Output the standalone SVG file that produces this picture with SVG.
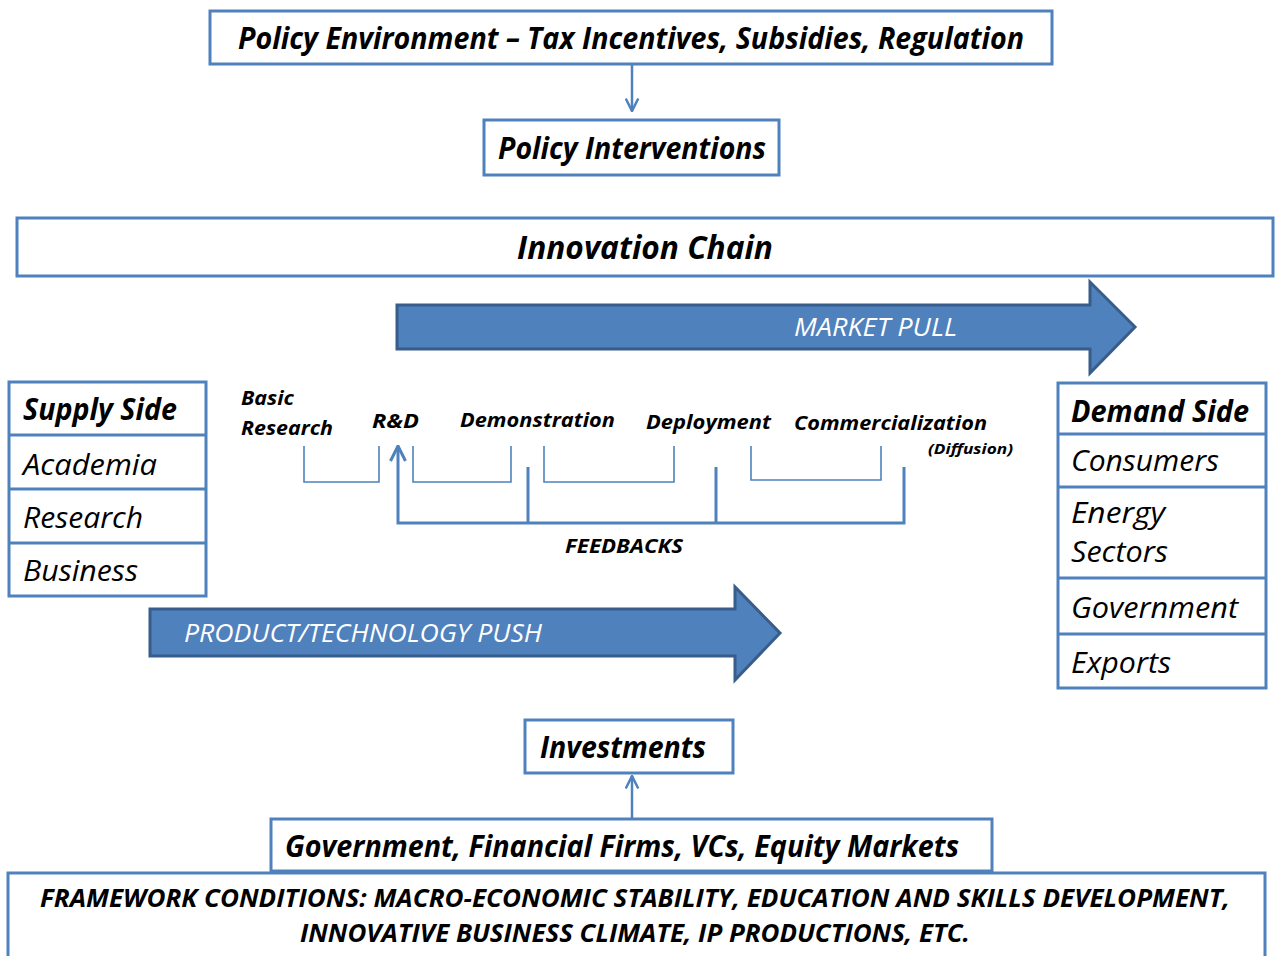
<svg xmlns="http://www.w3.org/2000/svg" width="1276" height="956" viewBox="0 0 1276 956">
  <style>
    .box { fill: #ffffff; stroke: #4f81bd; stroke-width: 3; }
    .sep { stroke: #4f81bd; stroke-width: 3; }
    .t { font-family: "Open Sans", "Liberation Sans", sans-serif; fill: #000; }
    .bi { font-weight: bold; font-style: italic; }
    .i { font-style: italic; }
    .big { fill: #4f81bd; stroke: #385d8a; stroke-width: 3; }
    .wt { font-family: "Open Sans", "Liberation Sans", sans-serif; fill: #ffffff; font-style: italic; }
    .thin { fill: none; stroke: #4f81bd; stroke-width: 1.6; }
    .fb { fill: none; stroke: #4f81bd; stroke-width: 3; }
    .conn { fill: none; stroke: #4f81bd; stroke-width: 2.5; }
  </style>
  <defs>
    <marker id="vhead" viewBox="0 0 12 12" refX="11" refY="6" markerWidth="6" markerHeight="6" orient="auto" markerUnits="strokeWidth">
      <path d="M1,1 L11,6 L1,11" fill="none" stroke="#4f81bd" stroke-width="2"/>
    </marker>
  </defs>

  <g id="policy-environment">
    <rect class="box" x="210" y="11" width="842" height="53"/>
    <text class="t bi" x="238" y="49" font-size="31" textLength="786" lengthAdjust="spacingAndGlyphs">Policy Environment – Tax Incentives, Subsidies, Regulation</text>
  </g>

  <g id="policy-interventions">
    <rect class="box" x="484" y="120" width="295" height="55"/>
    <text class="t bi" x="498" y="159" font-size="31" textLength="268" lengthAdjust="spacingAndGlyphs">Policy Interventions</text>
  </g>

  <g id="innovation-chain">
    <rect class="box" x="17" y="218" width="1256" height="58"/>
    <text class="t bi" x="517" y="259" font-size="33" textLength="256" lengthAdjust="spacingAndGlyphs">Innovation Chain</text>
  </g>

  <g id="market-pull">
    <path class="big" d="M397,305 L1090,305 L1090,282 L1135,327 L1090,373 L1090,349 L397,349 Z"/>
    <text class="wt" x="794" y="336" font-size="26" textLength="163" lengthAdjust="spacingAndGlyphs">MARKET PULL</text>
  </g>

  <g id="supply-side">
    <rect class="box" x="9" y="382" width="197" height="214"/>
    <line class="sep" x1="9" y1="435" x2="206" y2="435"/>
    <line class="sep" x1="9" y1="489" x2="206" y2="489"/>
    <line class="sep" x1="9" y1="543" x2="206" y2="543"/>
    <text class="t bi" x="23" y="420" font-size="30" textLength="154" lengthAdjust="spacingAndGlyphs">Supply Side</text>
    <text class="t i" x="23" y="475" font-size="30" textLength="134" lengthAdjust="spacingAndGlyphs">Academia</text>
    <text class="t i" x="23" y="528" font-size="30" textLength="120" lengthAdjust="spacingAndGlyphs">Research</text>
    <text class="t i" x="23" y="581" font-size="30" textLength="115" lengthAdjust="spacingAndGlyphs">Business</text>
  </g>

  <g id="demand-side">
    <rect class="box" x="1058" y="383" width="208" height="305"/>
    <line class="sep" x1="1058" y1="434" x2="1266" y2="434"/>
    <line class="sep" x1="1058" y1="487" x2="1266" y2="487"/>
    <line class="sep" x1="1058" y1="578" x2="1266" y2="578"/>
    <line class="sep" x1="1058" y1="634" x2="1266" y2="634"/>
    <text class="t bi" x="1071" y="422" font-size="30" textLength="178" lengthAdjust="spacingAndGlyphs">Demand Side</text>
    <text class="t i" x="1071" y="471" font-size="30" textLength="148" lengthAdjust="spacingAndGlyphs">Consumers</text>
    <text class="t i" x="1071" y="523" font-size="30" textLength="94" lengthAdjust="spacingAndGlyphs">Energy</text>
    <text class="t i" x="1071" y="562" font-size="30" textLength="97" lengthAdjust="spacingAndGlyphs">Sectors</text>
    <text class="t i" x="1071" y="618" font-size="30" textLength="167" lengthAdjust="spacingAndGlyphs">Government</text>
    <text class="t i" x="1071" y="673" font-size="30" textLength="100" lengthAdjust="spacingAndGlyphs">Exports</text>
  </g>

  <g id="chain-stages">
    <text class="t bi" x="241" y="405" font-size="20" textLength="53" lengthAdjust="spacingAndGlyphs">Basic</text>
    <text class="t bi" x="241" y="435" font-size="20" textLength="92" lengthAdjust="spacingAndGlyphs">Research</text>
    <text class="t bi" x="372" y="428" font-size="20" textLength="47" lengthAdjust="spacingAndGlyphs">R&amp;D</text>
    <text class="t bi" x="460" y="427" font-size="20" textLength="155" lengthAdjust="spacingAndGlyphs">Demonstration</text>
    <text class="t bi" x="646" y="429" font-size="20" textLength="125" lengthAdjust="spacingAndGlyphs">Deployment</text>
    <text class="t bi" x="794" y="430" font-size="20" textLength="193" lengthAdjust="spacingAndGlyphs">Commercialization</text>
    <text class="t bi" x="928" y="454" font-size="15" textLength="85" lengthAdjust="spacingAndGlyphs">(Diffusion)</text>
    <text class="t bi" x="565" y="553" font-size="20" textLength="118" lengthAdjust="spacingAndGlyphs">FEEDBACKS</text>
  </g>

  <g id="product-push">
    <path class="big" d="M150,609 L735,609 L735,587 L780,633 L735,680 L735,656 L150,656 Z"/>
    <text class="wt" x="184" y="642" font-size="26" textLength="358" lengthAdjust="spacingAndGlyphs">PRODUCT/TECHNOLOGY PUSH</text>
  </g>

  <g id="investments">
    <rect class="box" x="525" y="720" width="208" height="53"/>
    <text class="t bi" x="540" y="758" font-size="31" textLength="166" lengthAdjust="spacingAndGlyphs">Investments</text>
  </g>

  <g id="funders">
    <rect class="box" x="271" y="819" width="721" height="52"/>
    <text class="t bi" x="285" y="857" font-size="31" textLength="674" lengthAdjust="spacingAndGlyphs">Government, Financial Firms, VCs, Equity Markets</text>
  </g>

  <g id="framework-conditions">
    <rect class="box" x="8" y="873" width="1257" height="90"/>
    <text class="t bi" x="40" y="907" font-size="25" textLength="1190" lengthAdjust="spacingAndGlyphs">FRAMEWORK CONDITIONS: MACRO-ECONOMIC STABILITY, EDUCATION AND SKILLS DEVELOPMENT,</text>
    <text class="t bi" x="300" y="942" font-size="25" textLength="670" lengthAdjust="spacingAndGlyphs">INNOVATIVE BUSINESS CLIMATE, IP PRODUCTIONS, ETC.</text>
  </g>

  <g id="connectors">
    <line class="conn" x1="632" y1="65" x2="632" y2="111" marker-end="url(#vhead)"/>
    <line class="conn" x1="632" y1="818" x2="632" y2="776" marker-end="url(#vhead)"/>
    <!-- stage brackets -->
    <path class="thin" d="M304,446 V482 H379 V446"/>
    <path class="thin" d="M413,446 V482 H511 V446"/>
    <path class="thin" d="M544,446 V482 H674 V446"/>
    <path class="thin" d="M751,446 V480 H881 V446"/>
    <!-- feedback loop -->
    <path class="fb" d="M904,467 V523 H398 V446" marker-end="url(#vhead)"/>
    <line class="fb" x1="528" y1="467" x2="528" y2="523"/>
    <line class="fb" x1="716" y1="467" x2="716" y2="523"/>
  </g>
</svg>
